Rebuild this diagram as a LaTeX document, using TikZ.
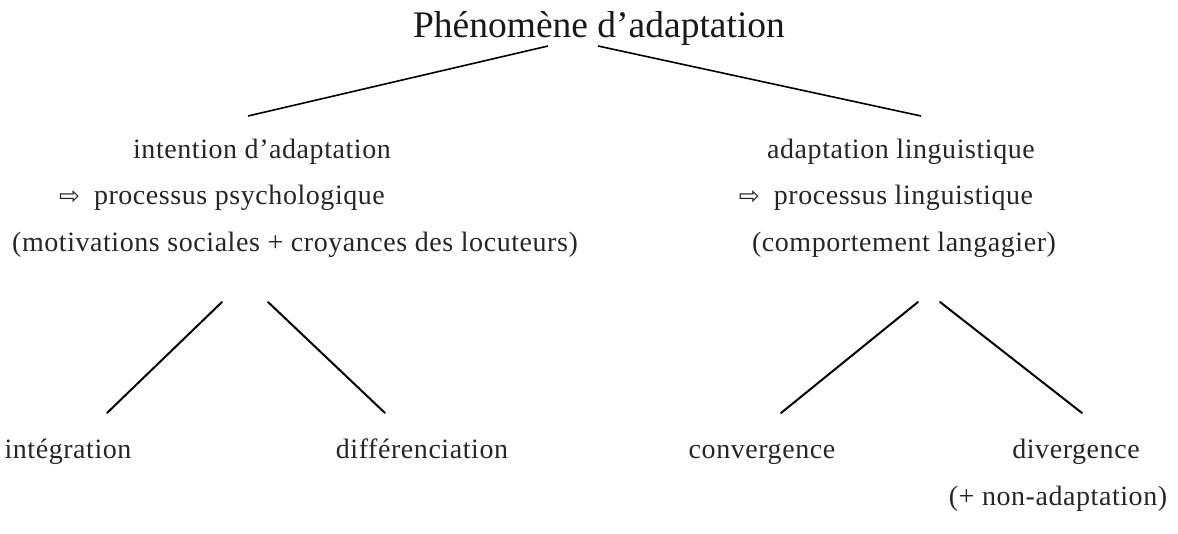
\documentclass[tikz,border=0pt]{standalone}
\usepackage{fontspec}
\setmainfont{Liberation Serif}
\newfontfamily\symfont{DejaVu Sans}
\begin{document}
\begin{tikzpicture}[x=1pt,y=-1pt,
  lbl/.style={anchor=base,inner sep=0pt,text=black!85,
    font=\fontsize{28}{32}\selectfont\addfontfeature{LetterSpace=2}},
  ttl/.style={anchor=base,inner sep=0pt,text=black!90,font=\fontsize{37.5}{42}\selectfont},
  branch/.style={line width=2pt,line cap=round}]
\newcommand{\rarr}{{\symfont\fontsize{25}{26}\selectfont ⇨}\hspace{14pt}}
\useasboundingbox (0,0) rectangle (1178,533);
% title
\node[ttl] (root) at (599,37) {Phénomène d'adaptation};
% left branch
\node[lbl] (intent) at (262,158) {intention d'adaptation};
\node[lbl] (psy) at (222,204) {\rarr processus psychologique};
\node[lbl] (motiv) at (295,251) {(motivations sociales + croyances des locuteurs)};
\node[lbl] (integ) at (68,458) {intégration};
\node[lbl] (diff) at (422,458) {différenciation};
% right branch
\node[lbl] (adapt) at (901,158) {adaptation linguistique};
\node[lbl] (ling) at (886,204) {\rarr processus linguistique};
\node[lbl] (comport) at (904,251) {(comportement langagier)};
\node[lbl] (conv) at (762,458) {convergence};
\node[lbl] (div) at (1076,458) {divergence};
\node[lbl] (nonad) at (1058,505) {(+ non-adaptation)};
% branch end points
\coordinate (rootL) at (548,46);
\coordinate (rootR) at (598,46);
\coordinate (intentT) at (248,116);
\coordinate (adaptT) at (921,116);
\coordinate (motivL) at (222,302);
\coordinate (motivR) at (268,302);
\coordinate (integT) at (107,413);
\coordinate (diffT) at (385,413);
\coordinate (compL) at (918,302);
\coordinate (compR) at (940,302);
\coordinate (convT) at (781,413);
\coordinate (divT) at (1082,413);
\draw[line width=1.6pt] (rootL) -- (intentT);
\draw[line width=1.6pt] (rootR) -- (adaptT);
\draw[branch] (motivL) -- (integT);
\draw[branch] (motivR) -- (diffT);
\draw[branch] (compL) -- (convT);
\draw[branch] (compR) -- (divT);
\end{tikzpicture}
\end{document}
